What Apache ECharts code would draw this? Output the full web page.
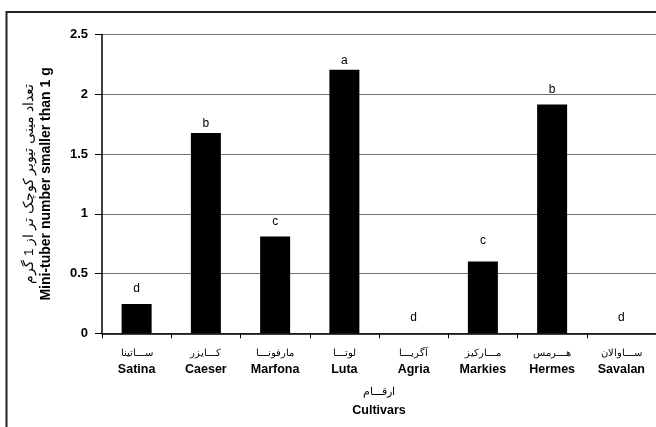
<!DOCTYPE html>
<html>
<head>
<meta charset="utf-8">
<script src="https://cdn.jsdelivr.net/npm/echarts@6/dist/echarts.min.js"></script>
<style>
  html, body { margin: 0; padding: 0; background: #fff; }
  #chart { width: 656px; height: 427px; }
</style>
</head>
<body>
<div id="chart"></div>
<script>
// Cultivar names (English and Persian) and mean mini-tuber counts below 1 g
const cultivarsEn = ['Satina', 'Caeser', 'Marfona', 'Luta', 'Agria', 'Markies', 'Hermes', 'Savalan'];
const cultivarsFa = ['ســـاتینا', 'کـــایزر', 'مارفونـــا', 'لوتـــا', 'آگریـــا', 'مـــارکیز', 'هـــرمس', 'ســـاوالان'];
const tuberCounts = [0.245, 1.675, 0.81, 2.205, 0, 0.60, 1.915, 0];
const groupLetters = ['d', 'b', 'c', 'a', 'd', 'c', 'b', 'd'];
const yTicks = [0, 0.5, 1, 1.5, 2, 2.5];

// gap between bar top and its significance letter
const letterGap = [9, 3, 9, 3, 10, 15, 9, 10];

const chart = echarts.init(document.getElementById('chart'));
const font = 'Liberation Sans, Arial, sans-serif';

chart.setOption({
  animation: false,
  backgroundColor: '#fff',
  grid: { left: 102, top: 34.5, width: 555, height: 298.8, containLabel: false },
  graphic: [
    { type: 'line', shape: { x1: 6.5, y1: 11, x2: 6.5, y2: 430 }, style: { stroke: '#222', lineWidth: 2 } },
    { type: 'line', shape: { x1: 6, y1: 12, x2: 660, y2: 12 }, style: { stroke: '#222', lineWidth: 2 } }
  ],
  xAxis: {
    type: 'category',
    data: cultivarsEn,
    boundaryGap: true,
    axisLine: { lineStyle: { color: '#000', width: 1.5 } },
    axisTick: { show: true, length: 5, alignWithLabel: false, lineStyle: { color: '#000' } },
    axisLabel: {
      margin: 12,
      interval: 0,
      formatter: (v, i) => '{fa|' + cultivarsFa[i] + '}\n{en|' + v + '}',
      rich: {
        fa: { fontFamily: font, fontSize: 10, color: '#000', lineHeight: 16 },
        en: { fontFamily: font, fontSize: 12.5, fontWeight: 'bold', color: '#000', lineHeight: 16 }
      }
    },
    name: '{fa|ارقـــام}\n{en|Cultivars}',
    nameLocation: 'middle',
    nameGap: 50,
    nameTextStyle: {
      rich: {
        fa: { fontFamily: font, fontSize: 11, color: '#000', lineHeight: 18 },
        en: { fontFamily: font, fontSize: 12.5, fontWeight: 'bold', color: '#000', lineHeight: 18 }
      }
    }
  },
  yAxis: {
    type: 'value',
    min: yTicks[0],
    max: yTicks[yTicks.length - 1],
    interval: 0.5,
    axisLine: { show: true, lineStyle: { color: '#000', width: 1.5 } },
    axisTick: { show: true, inside: false, length: 7, lineStyle: { color: '#000' } },
    axisLabel: {
      margin: 14,
      fontFamily: font,
      fontSize: 13,
      fontWeight: 'bold',
      color: '#000'
    },
    splitLine: { show: true, lineStyle: { color: '#707070', width: 1.2 } },
    name: '{fa|تعداد مینی تیوبر کوچک تر از 1 گرم}\n{en|Mini-tuber number smaller than 1 g}',
    nameLocation: 'middle',
    nameRotate: 90,
    nameGap: 48,
    nameTextStyle: {
      rich: {
        fa: { fontFamily: font, fontSize: 13.5, color: '#000', lineHeight: 17 },
        en: { fontFamily: font, fontSize: 14, fontWeight: 'bold', color: '#000', lineHeight: 16 }
      }
    }
  },
  series: [{
    type: 'bar',
    barWidth: 30,
    data: tuberCounts.map((v, i) => ({
      value: v,
      label: { distance: letterGap[i] }
    })),
    itemStyle: { color: '#000' },
    label: {
      show: true,
      position: 'top',
      formatter: p => groupLetters[p.dataIndex],
      fontFamily: font,
      fontSize: 12,
      color: '#000'
    }
  }]
});
</script>
</body>
</html>
